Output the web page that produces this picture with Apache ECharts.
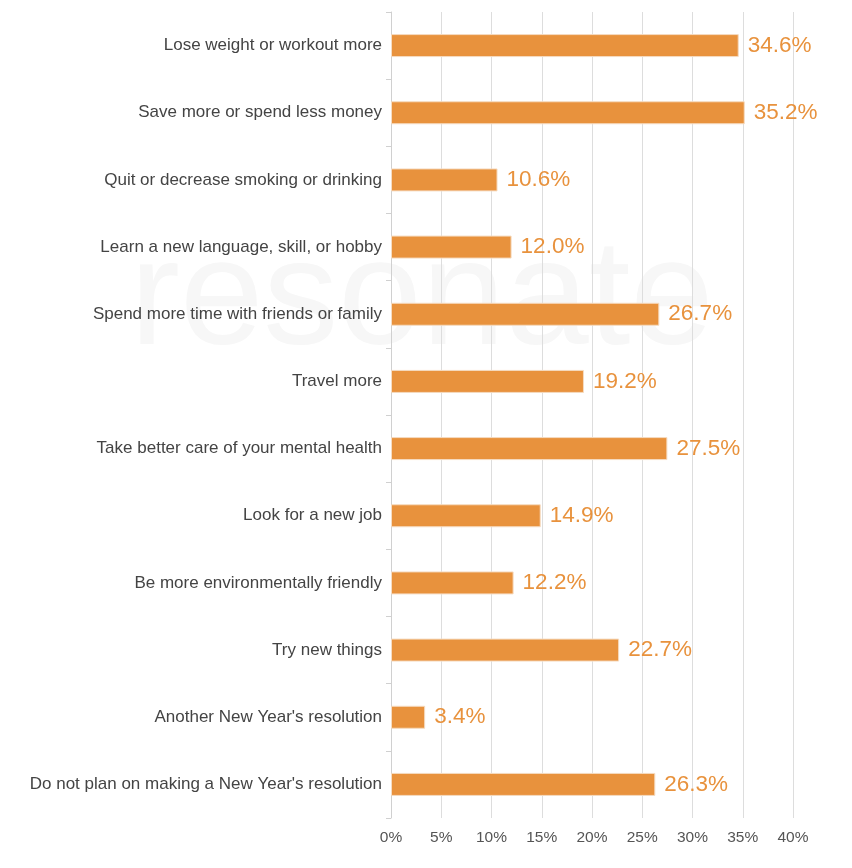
<!DOCTYPE html>
<html><head><meta charset="utf-8">
<script src="https://cdn.jsdelivr.net/npm/echarts@6/dist/echarts.min.js"></script>
<style>html,body{margin:0;padding:0;background:#fff}#c{width:852px;height:868px}</style>
</head><body><div id="c"></div>
<script>
const categories = [
  "Lose weight or workout more",
  "Save more or spend less money",
  "Quit or decrease smoking or drinking",
  "Learn a new language, skill, or hobby",
  "Spend more time with friends or family",
  "Travel more",
  "Take better care of your mental health",
  "Look for a new job",
  "Be more environmentally friendly",
  "Try new things",
  "Another New Year's resolution",
  "Do not plan on making a New Year's resolution"
];
const values = [34.6, 35.2, 10.6, 12.0, 26.7, 19.2, 27.5, 14.9, 12.2, 22.7, 3.4, 26.3];
const xTicks = [0, 5, 10, 15, 20, 25, 30, 35, 40];

const chart = echarts.init(document.getElementById('c'), null, {renderer: 'canvas'});
chart.setOption({
  animation: false,
  textStyle: {fontFamily: 'Liberation Sans, Arial, sans-serif'},
  graphic: [{
    type: 'text', left: 130, top: 228, z: -10, silent: true,
    style: {text: 'resonate', fontSize: 150, fontWeight: 100, fill: '#f7f7f7',
            fontFamily: 'Liberation Sans, Arial, sans-serif'}
  }],
  grid: {left: 391, right: 59, top: 12, bottom: 50, containLabel: false},
  xAxis: {
    type: 'value', min: xTicks[0], max: xTicks[xTicks.length - 1], interval: 5,
    axisLine: {show: false}, axisTick: {show: false},
    splitLine: {show: true, lineStyle: {color: '#dddddd', width: 1}},
    axisLabel: {formatter: v => v + '%', color: '#555555', fontSize: 15.5, margin: 12}
  },
  yAxis: {
    type: 'category', data: categories, inverse: true,
    axisLine: {show: true, lineStyle: {color: '#d0d0d0'}},
    axisTick: {show: true, length: 5, lineStyle: {color: '#d0d0d0'}},
    axisLabel: {color: '#444444', fontSize: 17, margin: 9}
  },
  series: [{
    type: 'bar', data: values, barWidth: 23,
    itemStyle: {color: '#E8923D', borderColor: '#f6dcc2', borderWidth: 1},
    label: {show: true, position: 'right', distance: 9, formatter: p => p.value.toFixed(1) + '%',
            color: '#E8923D', fontSize: 22.5}
  }]
});
</script></body></html>
